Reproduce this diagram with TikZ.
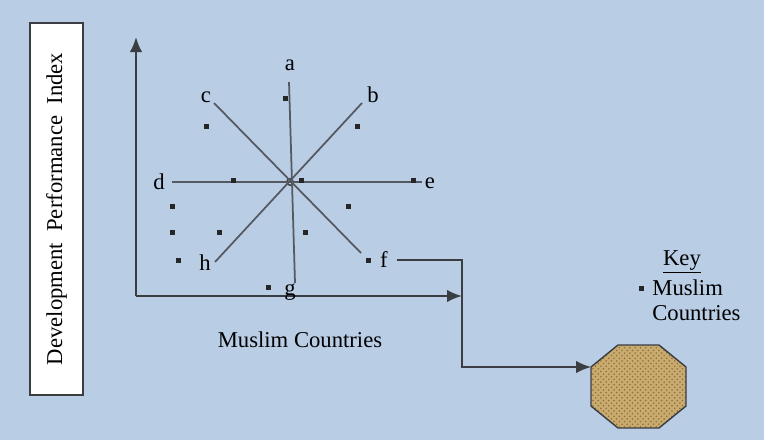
\documentclass[tikz,border=0pt]{standalone}
\usepackage{fontspec}
\setmainfont{Liberation Serif}
\usepackage{tikz}
\usetikzlibrary{arrows.meta,patterns,calc}
\definecolor{dpibg}{HTML}{B9CDE5}
\definecolor{dpiline}{HTML}{555961}
\definecolor{dpiaxis}{HTML}{3A3D42}
\definecolor{dpitan}{HTML}{C9AB70}
\definecolor{dpiweave}{HTML}{8E6F3A}
\tikzset{
  dpilab/.style={font=\fontsize{12.9}{14.2}\selectfont,inner sep=0pt},
  dpiray/.style={draw=dpiline,line width=1pt},
  dpiaxisline/.style={-{Latex[length=3mm,width=2.5mm]},draw=dpiaxis,line width=1.2pt},
  dpidot/.style={fill=black!85,minimum size=0.1cm,inner sep=0pt},
  dpilink/.style={-{Latex[length=3mm,width=2.5mm]},draw=dpiaxis,line width=0.9pt}
}

\begin{document}
\begin{tikzpicture}[x=0.02cm,y=-0.02cm]
\fill[dpibg] (0,0) rectangle (764,440);
\useasboundingbox (0,0) rectangle (764,440);
% index box
\node[draw=dpiaxis,fill=white,line width=0.9pt,minimum width=1.06cm,minimum height=7.44cm,inner sep=0pt] (idx) at (56.5,209) {};
\node[dpilab,rotate=90] (idxt) at (idx.center) {Development\ \ Performance\ \ Index};
% axes
\coordinate (org) at (136,296);
\coordinate (ytop) at (136,37);
\coordinate (xend) at (462,296);
\draw[dpiaxisline] (org) -- (ytop);
\draw[dpiaxisline] (org) -- (xend);
% star of lines
\node[circle,draw=dpiaxis,line width=0.8pt,minimum size=0.13cm,inner sep=0pt] (ctr) at (290,182) {};
\coordinate (pa) at (289,82);
\coordinate (pg) at (295,283);
\coordinate (pb) at (362,103);
\coordinate (ph) at (215,262);
\coordinate (pc) at (214,103);
\coordinate (pf) at (361,253);
\coordinate (pd) at (172,182);
\coordinate (pe) at (422,182);
\draw[dpiray] (pa) -- (pg);
\draw[dpiray] (pb) -- (ph);
\draw[dpiray] (pc) -- (pf);
\draw[dpiray] (pd) -- (pe);
\node[dpilab] (la) at (290,65) {a};
\node[dpilab] (lb) at (373,95) {b};
\node[dpilab] (lc) at (206,97) {c};
\node[dpilab] (ld) at (159,182) {d};
\node[dpilab] (le) at (430,183) {e};
\node[dpilab] (lf) at (384,260) {f};
\node[dpilab] (lg) at (290,292) {g};
\node[dpilab] (lh) at (205,263) {h};
% countries
\foreach \px/\py [count=\i] in {285/98,206/126,357/126,233/180,301/180,413/180,172/206,348/206,172/232,219/232,305/232,178/260,368/260,268/287}
  {\node[dpidot] (m\i) at (\px,\py) {};}
\node[dpilab] (xlab) at (300,340) {Muslim Countries};
% link to hub
\node[dpilab,inner sep=1pt] (lfx) at (lf) {\phantom{f}};
\coordinate (hubin) at (591,367);
\draw[dpilink] (lfx.east) ++(7,0) -| (462,367) -- (hubin);
\fill[dpitan] (591,367) -- (618,345) -- (659,345) -- (686,367) -- (686,406) -- (659,428) -- (618,428) -- (591,406) -- cycle;
\fill[pattern=crosshatch dots,pattern color=dpiweave] (591,367) -- (618,345) -- (659,345) -- (686,367) -- (686,406) -- (659,428) -- (618,428) -- (591,406) -- cycle;
\draw[dpiaxis,line width=0.8pt] (591,367) -- (618,345) -- (659,345) -- (686,367) -- (686,406) -- (659,428) -- (618,428) -- (591,406) -- cycle;
% key
\node[dpilab] (key) at (682,262) {\underline{Key}};
\node[dpidot] (kdot) at (641,288) {};
\node[dpilab,anchor=north west,align=left] (ktext) at (652,279) {Muslim\\Countries};
\end{tikzpicture}
\end{document}
